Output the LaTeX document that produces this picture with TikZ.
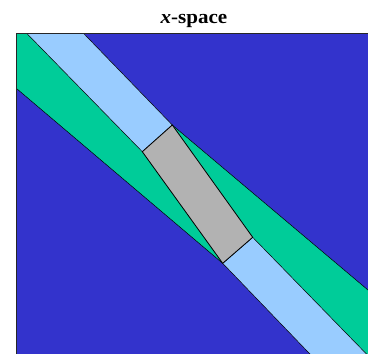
\documentclass[tikz,border=0pt]{standalone}
\usepackage{fontspec}
\setmainfont{Liberation Serif}
\definecolor{bgblue}{RGB}{51,51,204}
\definecolor{bandgreen}{RGB}{0,204,153}
\definecolor{lightband}{RGB}{153,204,255}
\definecolor{rectgray}{RGB}{178,178,178}
\begin{document}
\begin{tikzpicture}[x=1pt,y=-1pt,
  edge/.style={draw=black,line width=0.5pt,line join=miter},
  frame/.style={draw=black!85,line width=1.2pt}]
\useasboundingbox (0,0) rectangle (368,354);
\node[font=\bfseries\fontsize{19.5}{22}\selectfont,inner sep=0pt,anchor=base,xscale=1.08] (title) at (194,23) {\textit{x}-space};
\begin{scope}
  \clip (16.3,33.3) rectangle (380,370);
  \fill[bgblue] (0,0) rectangle (400,400);
  % green band
  \path[fill=bandgreen,edge] (0,74.5) -- (400,413.7) -- (400,317) -- (0,-20.2) -- cycle;
  % upper light band
  \path[fill=lightband,edge] (13.7,20) -- (70.6,20) -- (172.3,125) -- (142.3,151.7) -- cycle;
  % lower light band
  \path[fill=lightband,edge] (222.7,263.3) -- (252.7,237.3) -- (400,388.4) -- (400,447.7) -- cycle;
  % gray rectangle
  \path[fill=rectgray,draw=black,line width=0.8pt] (172.3,125) -- (142.3,151.7) -- (222.7,263.3) -- (252.7,237.3) -- cycle;
\end{scope}
\draw[frame] (16.3,400) -- (16.3,33.3) -- (400,33.3);
\end{tikzpicture}
\end{document}
